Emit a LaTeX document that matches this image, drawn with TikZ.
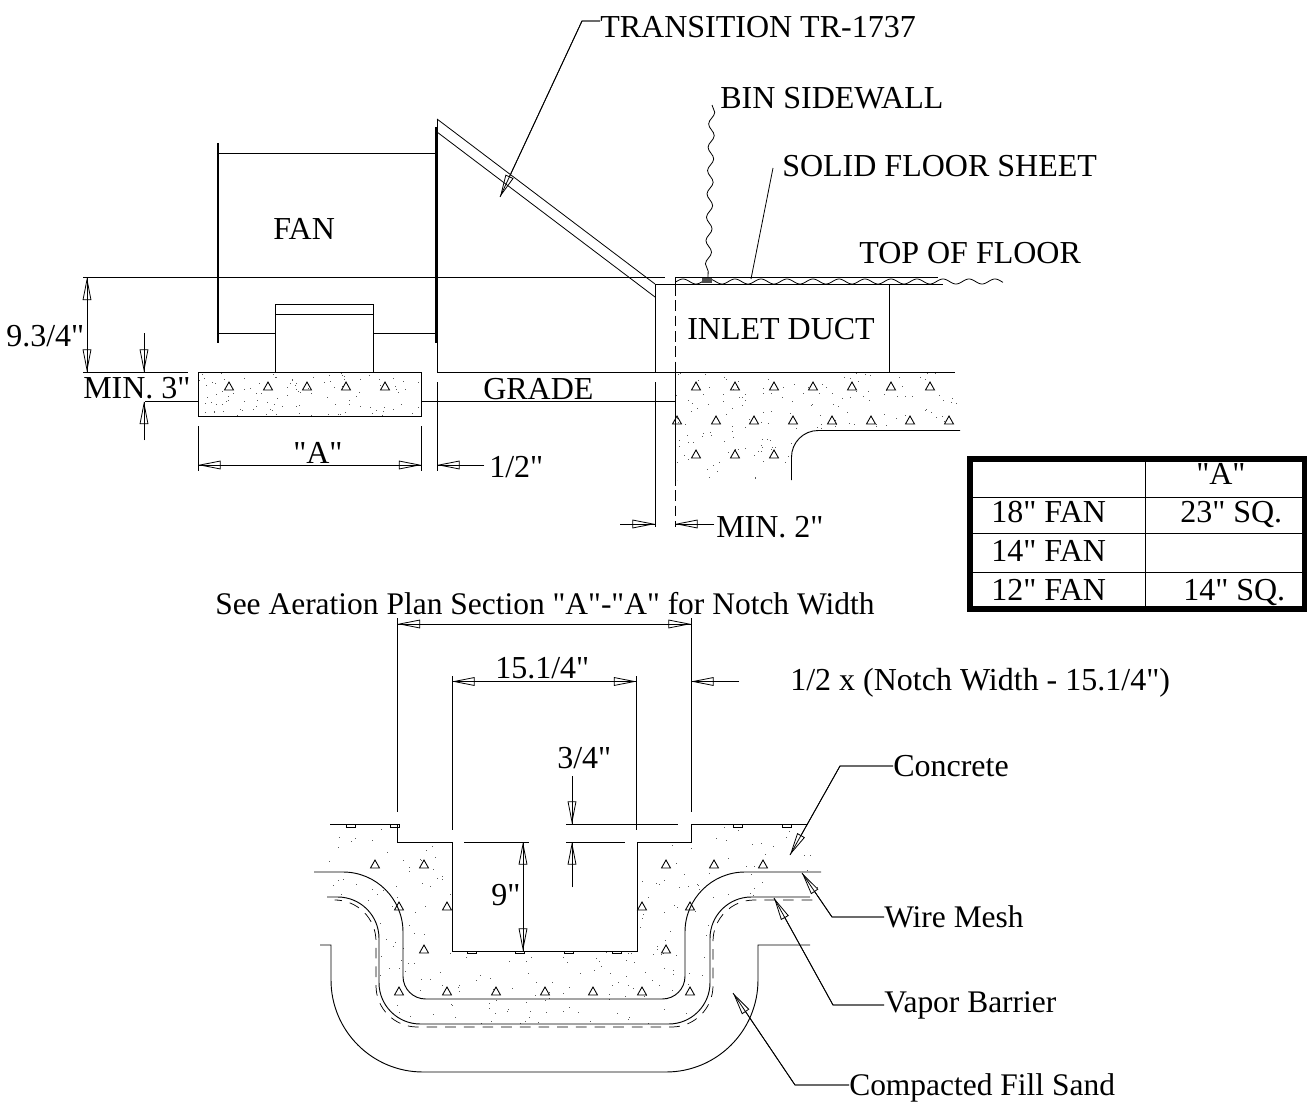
\documentclass[tikz,border=0pt]{standalone}
\usepackage{fontspec}
\setmainfont{Liberation Serif}[Ligatures=TeXOff]
\usetikzlibrary{arrows.meta,decorations.pathmorphing}
\newcommand{\labelfont}{\fontsize{24}{28}\selectfont}
\newcommand{\lowfont}{\fontsize{23.6}{28}\selectfont}
\newcommand{\tri}[2]{\draw[tristyle] (#1-4.5,#2+4) -- (#1+4.5,#2+4) -- (#1,#2-4) -- cycle;}
\newcommand{\stip}[5]{\foreach \i in {1,...,#5}{\pgfmathsetmacro\xx{#1+rnd*(#3-#1)}\pgfmathsetmacro\yy{#2+rnd*(#4-#2)}\fill[black!65] (\xx,\yy) rectangle +(.9,.9);}}
\tikzset{
  x=.75pt,y=-.75pt,
  every node/.style={inner sep=0pt,font=\labelfont,anchor=base west},
  thinline/.style={line width=.7pt,black},
  thick flange/.style={line width=1.25pt,black},
  hair/.style={line width=.6pt,black},
  tristyle/.style={line width=.65pt,black},
  opentip/.tip={Triangle[open,length=17pt,width=6.5pt,line width=.6pt]},
  dimend/.style={hair,-opentip,postaction={draw,hair,arrows=-}},
  dimboth/.style={hair,opentip-opentip,postaction={draw,hair,arrows=-}},
  wall/.style={hair,decorate,decoration={snake,amplitude=2.2pt,segment length=17.5pt}},
  dashline/.style={line width=.55pt,black,dash pattern=on 8pt off 6pt},
}
\begin{document}
\begin{tikzpicture}
\useasboundingbox (0,0) rectangle (1307,1102);
% ---------- concrete stipple
\begin{scope}
\clip (198,372) rectangle (421,416);
\pgfmathsetseed{7}
\stip{198}{372}{421}{416}{110}
\end{scope}
\begin{scope}
\clip (675,372) -- (955,372) -- (960,430) -- (818,430) [rounded corners=20pt] -- (791,430) [sharp corners] -- (791,480) -- (675,480) -- cycle;
\pgfmathsetseed{11}
\stip{675}{372}{960}{480}{200}
\end{scope}
\begin{scope}
\clip (330,824) -- (397,824) -- (397,842) -- (452,842) -- (452,951) -- (637,951) -- (637,842) -- (691,842) -- (691,824) -- (810,824) -- (820,897) -- (755,897) [rounded corners=31pt] -- (710,897) -- (710,1024) -- (379,1024) -- (379,897) [sharp corners] -- (320,897) -- (316,872) -- cycle;
\pgfmathsetseed{23}
\stip{316}{824}{820}{1024}{430}
\end{scope}
% ---------- fan
\draw[thick flange] (218,143) -- (218,343);
\draw[thick flange] (436,127) -- (436,343);
\draw[thinline] (218,153) -- (436,153);
\draw[thinline] (218,333) -- (275,333);
\draw[thinline] (373,333) -- (436,333);
\draw[thinline] (275.5,372) -- (275.5,304) -- (373,304) -- (373,372);
\draw[thinline] (275.5,314) -- (373,314);
% transition
\draw[hair] (437,119) -- (437,372);
\draw[hair] (437,119) -- (655,284);
\draw[hair] (437,132) -- (655,297);
% datum lines
\draw[thinline] (83,277.5) -- (665,277.5);
\draw[thinline] (83,372) -- (188,372);
\draw[thinline] (198,372) rectangle (421.5,416);
\draw[thinline] (437,372) -- (955,372);
\draw[thinline] (145,401.5) -- (198,401.5);
\draw[thinline] (421.5,401.5) -- (675,401.5);
% duct
\draw[hair] (655,284) -- (655,372);
\draw[hair] (655,382) -- (655,527);
\draw[hair] (675,277.5) -- (675,285);
\draw[hair,dash pattern=on 8pt off 3.5pt] (675,285) -- (675,372);
\draw[hair] (675,372) -- (675,475);
\draw[hair,dash pattern=on 8pt off 3.5pt] (675,475) -- (675,527);
\draw[thinline] (675,277.5) -- (938,277.5);
\draw[thinline] (655,284) -- (943,284);
\draw[hair] plot[domain=676:1003,samples=260] (\x,{281.5+2.5*cos(13.846*(\x-683)+180)});
\fill[black!70] (702,278) rectangle (712,283);
\draw[hair] (889,284) -- (889,372);
\draw[wall] (712,105) -- (708,278);
% lower concrete edge (upper part)
\draw[thinline] (960,430.5) -- (818,430.5) [rounded corners=20pt] -- (791.5,430.5) [sharp corners] -- (791.5,480);
% triangles, upper
\foreach \x in {229,268,307,346,385} {\tri{\x}{386}}
\foreach \x in {696,735,774,813,852,891,930} {\tri{\x}{386}}
\foreach \x in {677,716,754,793,832,871,910,949} {\tri{\x}{420}}
\foreach \x in {696,735,774} {\tri{\x}{454}}
% upper dimensions
\coordinate (a1) at (198,465); \coordinate (a2) at (421.5,465);
\draw[hair] (198,426) -- (198,471);
\draw[hair] (421.5,426) -- (421.5,471);
\draw[hair] (437,382) -- (437,471);
\draw[dimboth] (a1) -- (a2);
\coordinate (h1) at (484,465); \coordinate (h2) at (437,465);
\draw[dimend] (h1) -- (h2);
\coordinate (n1) at (87,277.5); \coordinate (n2) at (87,372);
\draw[dimboth] (n1) -- (n2);
\coordinate (m1) at (144,333); \coordinate (m2) at (144,372);
\coordinate (m3) at (144,440); \coordinate (m4) at (144,401.5);
\draw[dimend] (m1) -- (m2);
\draw[dimend] (m3) -- (m4);
\coordinate (q1) at (620,524); \coordinate (q2) at (655,524);
\coordinate (q3) at (714,524); \coordinate (q4) at (675,524);
\draw[dimend] (q1) -- (q2);
\draw[dimend] (q3) -- (q4);
% upper labels
\node (lblTrans) at (600,38) {TRANSITION TR-1737};
\node (lblBin) at (720,109) {BIN SIDEWALL};
\node (lblSolid) at (782,177) {SOLID FLOOR SHEET};
\node (lblTop) at (859,263) {TOP OF FLOOR};
\node (lblFan) at (273,239) {FAN};
\node (lblInlet) at (687,339) {INLET DUCT};
\node (lblGrade) at (483,399) {GRADE};
\node (lblMin3) at (83,398) {MIN. 3"};
\node (lblA) at (293,463) {"A"};
\node (lblHalf) at (489,477) {1/2"};
\node (lblMin2) at (716,537) {MIN. 2"};
\node (lblNine34) at (6,346) {9.3/4"};
\coordinate (tb) at (582,21); \coordinate (tt) at (500,197);
\draw[dimend] (lblTrans.west |- tb) -- (tb) -- (tt);
\coordinate (sb) at (773,168); \coordinate (st) at (751,279);
\draw[hair] (sb) -- (st);
% table
\draw[line width=4.5pt] (970,458.5) rectangle (1304.5,608.5);
\draw[thinline] (973,497) -- (1302,497);
\draw[thinline] (973,533) -- (1302,533);
\draw[thinline] (973,572) -- (1302,572);
\draw[thinline] (1145,461) -- (1145,606);
\node (tA) at (1196,484) {"A"};
\node (t18) at (991,522) {18" FAN};
\node (t14) at (991,561) {14" FAN};
\node (t12) at (991,600) {12" FAN};
\node (t23s) at (1180,522) {23" SQ.};
\node (t14s) at (1183,600) {14" SQ.};
% ---------- lower drawing
\draw[thinline] (330,824) -- (397.5,824) -- (397.5,842) -- (452,842);
\draw[thinline] (464,842) -- (529,842);
\draw[hair] (566,842) -- (625,842);
\draw[thinline] (637,842) -- (691,842) -- (691,824) -- (808,824);
\draw[thinline] (452,842) -- (452,951) -- (637,951) -- (637,842);
\draw[hair] (452,676) -- (452,830);
\draw[hair] (636.5,676) -- (636.5,830);
\draw[hair] (397.5,618) -- (397.5,812);
\draw[hair] (691,618) -- (691,812);
\draw[hair] (566,824) -- (678,824);
% small chairs
\foreach \x in {351,395,738,787} {\draw[hair] (\x-4.5,824) rectangle (\x+4.5,827);}
\foreach \x in {472,520,569,617} {\draw[hair] (\x-4.5,951) rectangle (\x+4.5,953);}
% slab curves
\draw[thinline] (314,872) -- (345,872) [rounded corners=45pt] -- (403,872) [rounded corners=17pt] -- (403,999) -- (685,999) [rounded corners=45pt] -- (685,872) [sharp corners] -- (821,872);
\draw[thinline] (327,897) [rounded corners=31pt] -- (379,897) -- (379,1024) -- (710,1024) -- (710,897) [sharp corners] -- (810,897);
\draw[dashline] (338,900) [rounded corners=31pt] -- (376,900) -- (376,1027) -- (713,1027) -- (713,900) [sharp corners] -- (813,900);
\draw[thinline] (320,945) -- (331,945) [rounded corners=69pt] -- (331,1072) -- (758,1072) [sharp corners] -- (758,945) -- (810,945);
% triangles, lower
\foreach \x in {375,424,666,714,763} {\tri{\x}{864}}
\foreach \x in {399,447,642,690} {\tri{\x}{906}}
\foreach \x in {424,666} {\tri{\x}{949}}
\foreach \x in {399,447,496,545,593,642,690} {\tri{\x}{991}}
% lower dims
\coordinate (w1) at (397.5,624); \coordinate (w2) at (691,624);
\draw[dimboth] (w1) -- (w2);
\coordinate (f1) at (452,681.5); \coordinate (f2) at (636.5,681.5);
\draw[dimboth] (f1) -- (f2);
\coordinate (g1) at (739,681.5); \coordinate (g2) at (691,681.5);
\draw[dimend] (g1) -- (g2);
\coordinate (d1) at (523,842); \coordinate (d2) at (523,951);
\draw[dimboth] (d1) -- (d2);
\coordinate (e1) at (572,776); \coordinate (e2) at (572,824);
\coordinate (e3) at (572,887); \coordinate (e4) at (572,842);
\draw[dimend] (e1) -- (e2);
\draw[dimend] (e3) -- (e4);
% lower labels
\node[font=\lowfont] (lblSee) at (215,614) {See Aeration Plan Section "A"-"A" for Notch Width};
\node (lblFif) at (495,678) {15.1/4"};
\node (lblFormula) at (790,690) {1/2 x (Notch Width - 15.1/4")};
\node (lblThree) at (557,768) {3/4"};
\node (lblNine) at (491,905) {9"};
\node (lblConc) at (893,776) {Concrete};
\node[font=\lowfont] (lblWire) at (884,927) {Wire Mesh};
\node[font=\lowfont] (lblVap) at (884,1012) {Vapor Barrier};
\node[font=\lowfont] (lblSand) at (849,1095) {Compacted Fill Sand};
\coordinate (cb) at (840,766); \coordinate (ct) at (790,855);
\draw[dimend] (lblConc.west |- cb) -- (cb) -- (ct);
\coordinate (wb) at (832,917); \coordinate (wt) at (802,873);
\draw[dimend] (lblWire.west |- wb) -- (wb) -- (wt);
\coordinate (vb) at (833,1005); \coordinate (vt) at (774,898);
\draw[dimend] (lblVap.west |- vb) -- (vb) -- (vt);
\coordinate (pb) at (795,1085); \coordinate (pt) at (733,993);
\draw[dimend] (lblSand.west |- pb) -- (pb) -- (pt);
\end{tikzpicture}
\end{document}
